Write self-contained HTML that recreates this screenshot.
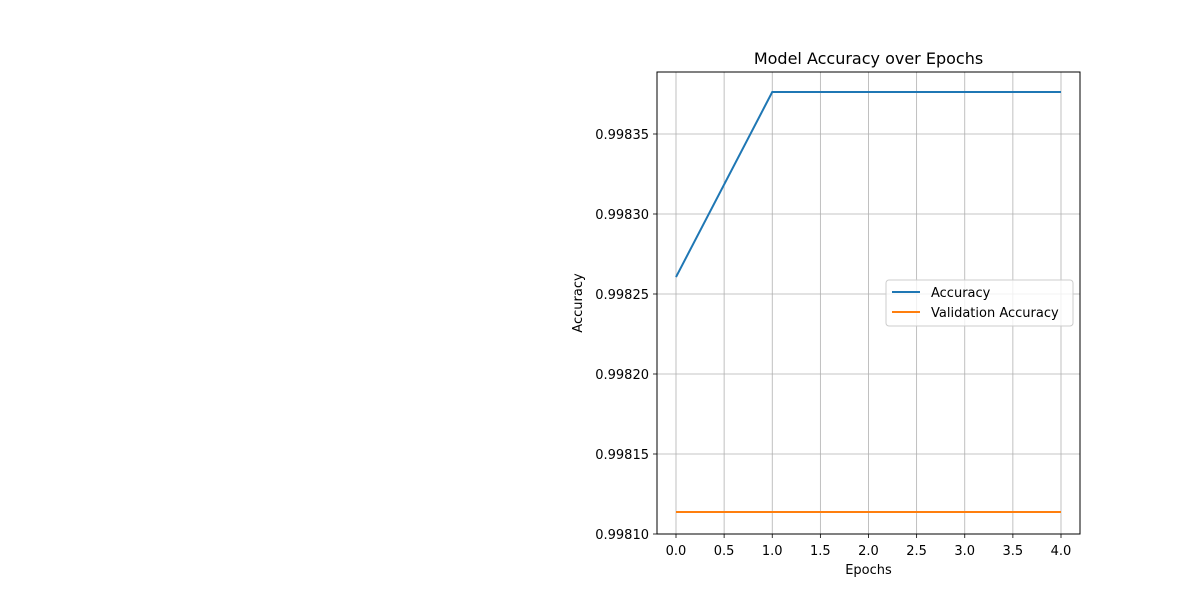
<!DOCTYPE html>
<html><head><meta charset="utf-8"><style>
body{margin:0;background:#fff;}
svg text{font-family:"DejaVu Sans","Liberation Sans",sans-serif;fill:#000;}
</style></head><body>
<svg width="1200" height="600" xmlns="http://www.w3.org/2000/svg">
<rect width="1200" height="600" fill="#fff"/>
<g id="grid"></g>
<g id="series"></g>
<rect x="657" y="72" width="423" height="462" fill="none" stroke="#000" stroke-width="1"/>
<g id="axes"></g>
<text x="868.5" y="64" font-size="16" text-anchor="middle">Model Accuracy over Epochs</text>
<text x="868.5" y="574" font-size="13" text-anchor="middle">Epochs</text>
<text x="582" y="303" font-size="13" text-anchor="middle" transform="rotate(-90 582 303)">Accuracy</text>
<g>
<rect x="886" y="280" width="187" height="46" rx="3" fill="#fff" fill-opacity="0.8" stroke="#ccc"/>
<line x1="892" y1="292" x2="920" y2="292" stroke="#1f77b4" stroke-width="2"/>
<text x="931" y="297" font-size="13">Accuracy</text>
<line x1="892" y1="312" x2="920" y2="312" stroke="#ff7f0e" stroke-width="2"/>
<text x="931" y="317" font-size="13">Validation Accuracy</text>
</g>
</svg>
<script>
const epochs=[0,1,2,3,4];
const accuracy=[0.9982606,0.99837625,0.99837625,0.99837625,0.99837625];
const valAccuracy=[0.99811375,0.99811375,0.99811375,0.99811375,0.99811375];
const xTicks=[0,0.5,1,1.5,2,2.5,3,3.5,4];
const xTickLabels=["0.0","0.5","1.0","1.5","2.0","2.5","3.0","3.5","4.0"];
const yTicks=[0.99810,0.99815,0.99820,0.99825,0.99830,0.99835];
const yTickLabels=["0.99810","0.99815","0.99820","0.99825","0.99830","0.99835"];
const NS="http://www.w3.org/2000/svg";
function xs(v){return 676+v*96.25;}
function ys(v){return 534-(v-0.99810)/0.00005*80;}
function mk(tag,attrs,parent){const e=document.createElementNS(NS,tag);for(const k in attrs)e.setAttribute(k,attrs[k]);parent.appendChild(e);return e;}
const grid=document.getElementById('grid'),axes=document.getElementById('axes'),series=document.getElementById('series');
xTicks.forEach((t,i)=>{const x=xs(t);
const g=mk('line',{x1:x,x2:x,y1:72,y2:534,stroke:'#b0b0b0','stroke-width':0.8},grid);


mk('line',{x1:x,x2:x,y1:534,y2:538,stroke:'#000','stroke-width':0.8},axes);
const tx=mk('text',{x:x,y:555,'font-size':13,'text-anchor':'middle'},axes);tx.textContent=xTickLabels[i];

});
yTicks.forEach((t,i)=>{const y=ys(t);
const g=mk('line',{x1:657,x2:1080,y1:y,y2:y,stroke:'#b0b0b0','stroke-width':0.8},grid);


mk('line',{x1:653,x2:657,y1:y,y2:y,stroke:'#000','stroke-width':0.8},axes);
const tx=mk('text',{x:649,y:y+5,'font-size':13,'text-anchor':'end'},axes);tx.textContent=yTickLabels[i];

});
function line(vals,color,name){const p=mk('polyline',{points:vals.map((v,i)=>xs(epochs[i])+','+ys(v)).join(' '),fill:'none',stroke:color,'stroke-width':2},series);

}
line(accuracy,'#1f77b4','accuracy-line');
line(valAccuracy,'#ff7f0e','validation-accuracy-line');
</script>
</body></html>
